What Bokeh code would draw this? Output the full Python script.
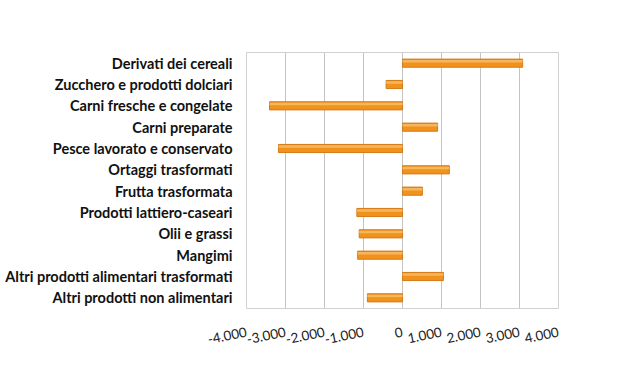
from bokeh.plotting import figure
from bokeh.models import FactorRange, Range1d, FixedTicker
from bokeh.transform import dodge
from bokeh.embed import file_html
from bokeh.resources import INLINE

categories = [
    "Derivati dei cereali",
    "Zucchero e prodotti dolciari",
    "Carni fresche e congelate",
    "Carni preparate",
    "Pesce lavorato e conservato",
    "Ortaggi trasformati",
    "Frutta trasformata",
    "Prodotti lattiero-caseari",
    "Olii e grassi",
    "Mangimi",
    "Altri prodotti alimentari trasformati",
    "Altri prodotti non alimentari",
]
values = [3080, -420, -3410, 900, -3180, 1200, 510, -1170, -1110, -1150, 1050, -900]
tick_values = [-4000, -3000, -2000, -1000, 0, 1000, 2000, 3000, 4000]
tick_labels = ["-4.000", "-3.000", "-2.000", "-1.000", "0", "1.000", "2.000", "3.000", "4.000"]

p = figure(
    width=616, height=374,
    y_range=FactorRange(*list(reversed(categories)), range_padding=0),
    x_range=Range1d(-4000, 4000),
    output_backend="svg", toolbar_location=None,
    min_border_left=246, min_border_right=58, min_border_top=52, min_border_bottom=66,
)
p.frame_width = 312
p.frame_height = 256

src = dict(cat=categories, val=values)
p.hbar(y="cat", left=0, right="val", height=0.38, source=src,
       fill_color="#F0921C", line_color="#D27A18", line_width=1)
p.hbar(y=dodge("cat", 0.09, range=p.y_range), left=0, right="val", height=0.12, source=src,
       fill_color="#F8B65C", line_color=None)

p.outline_line_color = "#d0d0d0"
p.ygrid.grid_line_color = None
p.xgrid.grid_line_color = "#c4c4c4"
p.xgrid.ticker = FixedTicker(ticks=tick_values)

p.xaxis.ticker = FixedTicker(ticks=tick_values)
p.xaxis.major_label_overrides = {v: l for v, l in zip(tick_values, tick_labels)}
p.xaxis.axis_line_color = None
p.xaxis.major_tick_line_color = None
p.xaxis.minor_tick_line_color = None
p.xaxis.major_label_orientation = 0.2
p.xaxis.major_label_standoff = 17
p.xaxis.major_label_text_font = "Lato"
p.xaxis.major_label_text_font_size = "13.5px"
p.xaxis.major_label_text_color = "#222222"

p.yaxis.axis_line_color = None
p.yaxis.major_tick_line_color = None
p.yaxis.minor_tick_line_color = None
p.yaxis.major_label_standoff = 8
p.yaxis.major_label_text_font = "Lato"
p.yaxis.major_label_text_font_style = "bold"
p.yaxis.major_label_text_font_size = "14.5px"
p.yaxis.major_label_text_color = "#111111"

open("out.html", "w").write(file_html(p, INLINE))
